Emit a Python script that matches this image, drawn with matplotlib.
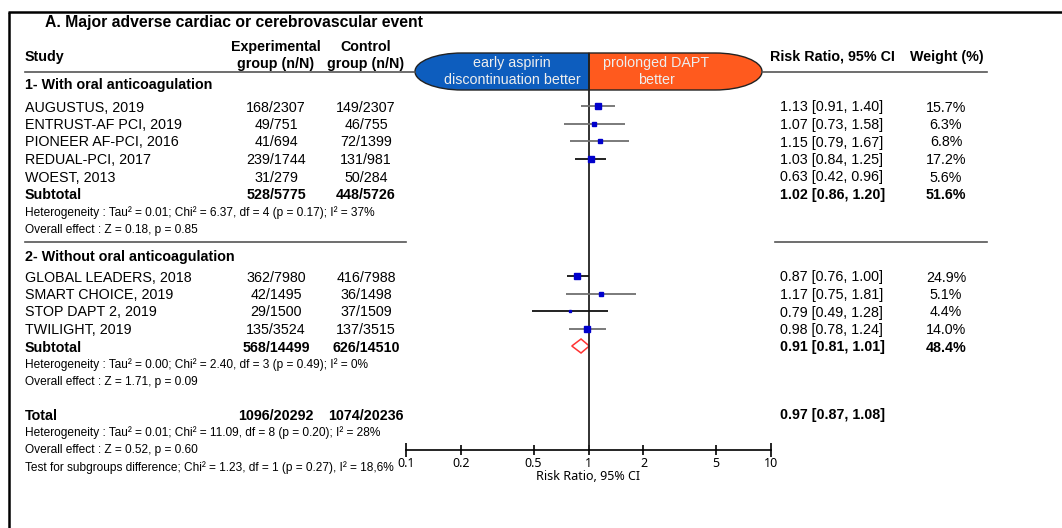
import numpy as np
import matplotlib
matplotlib.use("Agg")
import matplotlib.pyplot as plt
from matplotlib.path import Path
from matplotlib.patches import PathPatch

plt.rcParams["font.family"] = ["Liberation Sans", "DejaVu Sans"]

# ---- data ----
studies_1 = ["AUGUSTUS, 2019", "ENTRUST-AF PCI, 2019", "PIONEER AF-PCI, 2016",
             "REDUAL-PCI, 2017", "WOEST, 2013"]
exp_events_1 = [168, 49, 41, 239, 31]
exp_total_1 = [2307, 751, 694, 1744, 279]
ctrl_events_1 = [149, 46, 72, 131, 50]
ctrl_total_1 = [2307, 755, 1399, 981, 284]
rr_1 = [1.13, 1.07, 1.15, 1.03, 0.63]
lo_1 = [0.91, 0.73, 0.79, 0.84, 0.42]
hi_1 = [1.40, 1.58, 1.67, 1.25, 0.96]
weight_1 = [15.7, 6.3, 6.8, 17.2, 5.6]
drawn_1 = [True, True, True, True, False]
sub_1 = (1.02, 0.86, 1.20, 51.6)
het_1 = "Heterogeneity : Tau² = 0.01; Chi² = 6.37, df = 4 (p = 0.17); I² = 37%"
eff_1 = "Overall effect : Z = 0.18, p = 0.85"

studies_2 = ["GLOBAL LEADERS, 2018", "SMART CHOICE, 2019", "STOP DAPT 2, 2019",
             "TWILIGHT, 2019"]
exp_events_2 = [362, 42, 29, 135]
exp_total_2 = [7980, 1495, 1500, 3524]
ctrl_events_2 = [416, 36, 37, 137]
ctrl_total_2 = [7988, 1498, 1509, 3515]
rr_2 = [0.87, 1.17, 0.79, 0.98]
lo_2 = [0.76, 0.75, 0.49, 0.78]
hi_2 = [1.00, 1.81, 1.28, 1.24]
weight_2 = [24.9, 5.1, 4.4, 14.0]
drawn_2 = [True, True, True, True]
sub_2 = (0.91, 0.81, 1.01, 48.4)
het_2 = "Heterogeneity : Tau² = 0.00; Chi² = 2.40, df = 3 (p = 0.49); I² = 0%"
eff_2 = "Overall effect : Z = 1.71, p = 0.09"

total = (0.97, 0.87, 1.08)
total_exp = "1096/20292"
total_ctrl = "1074/20236"
het_t = "Heterogeneity : Tau² = 0.01; Chi² = 11.09, df = 8 (p = 0.20); I² = 28%"
eff_t = "Overall effect : Z = 0.52, p = 0.60"
test_sub = "Test for subgroups difference; Chi² = 1.23, df = 1 (p = 0.27), I² = 18,6%"

ticks = [0.1, 0.2, 0.5, 1, 2, 5, 10]
tick_labels = ["0.1", "0.2", "0.5", "1", "2", "5", "10"]

# ---- styles ----
ci_colors_1 = ["#707070", "#707070", "#707070", "#111111", "#707070"]
ci_colors_2 = ["#111111", "#707070", "#111111", "#707070"]
blue_fill = "#0D5DBE"
orange_fill = "#FF5A1E"
axis_font = ["Noto Sans", "DejaVu Sans"]

W, H = 1062, 528
fig = plt.figure(figsize=(W / 100, H / 100), dpi=100)
bg = fig.add_axes([0, 0, 1, 1])
bg.set_xlim(0, W)
bg.set_ylim(H, 0)
bg.axis("off")

X0, X1 = 406, 771
ax = fig.add_axes([X0 / W, 0, (X1 - X0) / W, 1])
ax.set_xscale("log")
ax.set_xlim(0.1, 10)
ax.set_ylim(H, 0)
ax.patch.set_alpha(0)
for s in ["left", "right", "top"]:
    ax.spines[s].set_visible(False)
ax.spines["bottom"].set_position(("data", 450))
ax.spines["bottom"].set_linewidth(1.2)
ax.set_yticks([])
ax.set_xticks(ticks)
ax.set_xticklabels(tick_labels, family=axis_font)
ax.xaxis.set_minor_locator(matplotlib.ticker.NullLocator())
ax.tick_params(axis="x", direction="inout", length=7, width=1.2, labelsize=9, pad=1.5)
for t in ax.xaxis.get_major_ticks():
    if t.get_loc() in (0.1, 10):
        t.tick1line.set_markersize(10)
ax.text(1, 477, "Risk Ratio, 95% CI", ha="center", va="center", fontsize=9,
        family=axis_font)

# frame
bg.plot([8, W], [12, 12], color="black", lw=1.8, solid_capstyle="butt")
bg.plot([9, 9], [12, H], color="black", lw=1.8, solid_capstyle="butt")

FS = 10.3
SMALL = 8.6
DY = 1.5
XS, XE, XC, XR, XW = 25, 276, 366, 780, 946


def txt(x, y, s, **kw):
    kw.setdefault("fontsize", FS)
    kw.setdefault("va", "center")
    bg.text(x, y + DY, s, **kw)


txt(45, 21, "A. Major adverse cardiac or cerebrovascular event", fontsize=11.3,
    fontweight="bold")
txt(XS, 56, "Study", fontweight="bold")
txt(XE, 54, "Experimental\ngroup (n/N)", fontweight="bold", ha="center", linespacing=1.3)
txt(XC, 54, "Control\ngroup (n/N)", fontweight="bold", ha="center", linespacing=1.3)
txt(770, 55, "Risk Ratio, 95% CI", fontweight="bold")
txt(910, 55, "Weight (%)", fontweight="bold")

# header underline and separators
bg.plot([25, 415], [72, 72], color="#555555", lw=1.2)
bg.plot([762, 987], [72, 72], color="#555555", lw=1.2)
bg.plot([25, 406], [242, 242], color="#555555", lw=1.2)
bg.plot([775, 987], [242, 242], color="#555555", lw=1.2)

# banner
cx, top, bot, xl, xr, tipl, tipr = 589, 53, 90, 462, 715, 415, 762
mid = (top + bot) / 2
k = 0.5523
rx = xl - tipl
ry = mid - top


def half(sign, xs, tip):
    verts = [(cx, top), (xs, top),
             (xs + sign * k * rx, top), (tip, mid - k * ry), (tip, mid),
             (tip, mid + k * ry), (xs + sign * k * rx, bot), (xs, bot),
             (cx, bot), (cx, top)]
    codes = [Path.MOVETO, Path.LINETO, Path.CURVE4, Path.CURVE4, Path.CURVE4,
             Path.CURVE4, Path.CURVE4, Path.CURVE4, Path.LINETO, Path.CLOSEPOLY]
    return Path(verts, codes)


bg.add_patch(PathPatch(half(-1, xl, tipl), facecolor=blue_fill, edgecolor="#222222", lw=1))
bg.add_patch(PathPatch(half(1, xr, tipr), facecolor=orange_fill, edgecolor="#222222", lw=1))
for x, y, s in [(512, 62, "early aspirin"), (512, 79, "discontinuation better"),
                (656, 62, "prolonged DAPT"), (656, 79, "better")]:
    txt(x, y, s, color="#eeeeee", ha="center")

# reference line
ax.vlines(1, 53, 450, color="#222222", lw=1.3)

STEP = 17.5


def group(title, y_title, y0, studies, ee, et, ce, ct, rr, lo, hi, w, drawn, colors,
          sub, het, eff, draw_sub):
    txt(XS, y_title, title, fontweight="bold")
    for i in range(len(studies)):
        y = y0 + i * STEP
        txt(XS, y, studies[i])
        txt(XE, y, f"{ee[i]}/{et[i]}", ha="center")
        txt(XC, y, f"{ce[i]}/{ct[i]}", ha="center")
        txt(XR, y, f"{rr[i]:.2f} [{lo[i]:.2f}, {hi[i]:.2f}]")
        txt(XW, y, f"{w[i]:.1f}%", ha="center")
        if drawn[i]:
            ax.hlines(y, lo[i], hi[i], color=colors[i], lw=1.3)
            ax.plot(rr[i], y, marker="s", ms=np.sqrt(w[i]), color="#0000CC",
                    mec="#0000CC", ls="none")
    ys = y0 + len(studies) * STEP
    txt(XS, ys, "Subtotal", fontweight="bold")
    txt(XE, ys, f"{sum(ee)}/{sum(et)}", fontweight="bold", ha="center")
    txt(XC, ys, f"{sum(ce)}/{sum(ct)}", fontweight="bold", ha="center")
    txt(XR, ys, f"{sub[0]:.2f} [{sub[1]:.2f}, {sub[2]:.2f}]", fontweight="bold")
    txt(XW, ys, f"{sub[3]:.1f}%", fontweight="bold", ha="center")
    if draw_sub:
        ax.fill([sub[1], sub[0], sub[2], sub[0]], [ys, ys - 7, ys, ys + 7],
                facecolor="white", edgecolor="#FF3333", lw=1.1)
    txt(XS, ys + STEP, het, fontsize=SMALL)
    txt(XS, ys + 2 * STEP, eff, fontsize=SMALL)


group("1- With oral anticoagulation", 84, 106, studies_1, exp_events_1, exp_total_1,
      ctrl_events_1, ctrl_total_1, rr_1, lo_1, hi_1, weight_1, drawn_1, ci_colors_1,
      sub_1, het_1, eff_1, False)
group("2- Without oral anticoagulation", 256, 276, studies_2, exp_events_2, exp_total_2,
      ctrl_events_2, ctrl_total_2, rr_2, lo_2, hi_2, weight_2, drawn_2, ci_colors_2,
      sub_2, het_2, eff_2, True)

yt = 414
txt(XS, yt, "Total", fontweight="bold")
txt(XE, yt, total_exp, fontweight="bold", ha="center")
txt(XC, yt, total_ctrl, fontweight="bold", ha="center")
txt(XR, yt, f"{total[0]:.2f} [{total[1]:.2f}, {total[2]:.2f}]", fontweight="bold")
txt(XS, yt + STEP, het_t, fontsize=SMALL)
txt(XS, yt + 2 * STEP, eff_t, fontsize=SMALL)
txt(XS, yt + 3 * STEP, test_sub, fontsize=SMALL)

fig.savefig("out.png", dpi=100)
